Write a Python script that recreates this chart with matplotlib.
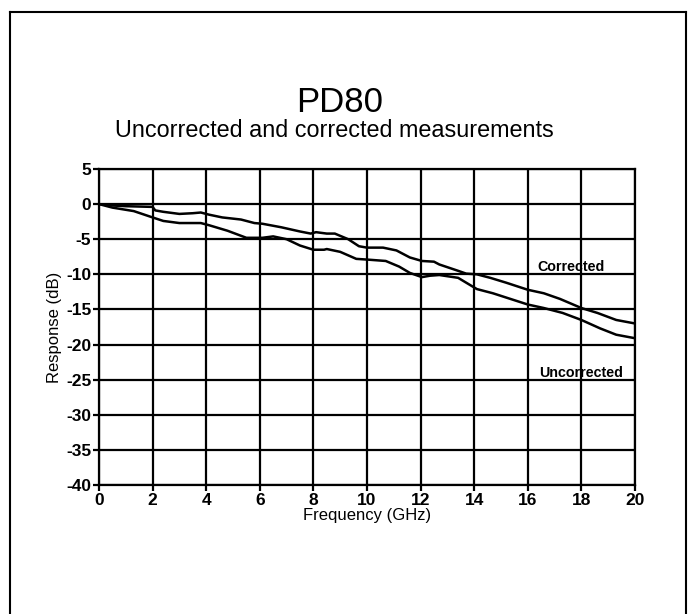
import matplotlib
matplotlib.use("Agg")
import matplotlib.pyplot as plt
from matplotlib.lines import Line2D

plt.rcParams['font.family'] = ['Liberation Sans', 'DejaVu Sans']

# corrected measurement (upper curve)
freq_corr = [0.0, 0.5, 1.0, 1.5, 2.0, 2.1, 2.4, 3.0, 3.5, 3.8, 4.1, 4.6, 5.3, 5.8,
             6.1, 6.8, 7.5, 7.9, 8.1, 8.5, 8.8, 9.3, 9.7, 10.0, 10.6, 11.1, 11.6,
             12.05, 12.5, 12.7, 13.4, 13.7, 14.1, 14.6, 15.2, 16.0, 16.6, 17.2,
             18.0, 18.6, 19.3, 20.0]
resp_corr = [0.0, -0.2, -0.3, -0.35, -0.4, -0.9, -1.1, -1.4, -1.3, -1.2, -1.5, -1.9,
             -2.2, -2.7, -2.8, -3.3, -3.9, -4.2, -4.0, -4.2, -4.2, -5.0, -6.0, -6.2,
             -6.2, -6.6, -7.6, -8.1, -8.2, -8.6, -9.5, -9.9, -10.0, -10.5, -11.2,
             -12.2, -12.7, -13.5, -14.8, -15.5, -16.5, -17.0]

# uncorrected measurement (lower curve)
freq_unc = [0.0, 0.5, 1.3, 2.0, 2.4, 3.0, 3.8, 4.1, 4.8, 5.5, 6.1, 6.5, 7.0, 7.5,
            8.0, 8.4, 8.5, 9.0, 9.6, 10.0, 10.7, 11.2, 11.6, 12.05, 12.35, 12.7,
            13.4, 14.1, 14.7, 16.0, 16.6, 17.3, 18.0, 18.7, 19.3, 20.0]
resp_unc = [0.0, -0.5, -1.0, -1.9, -2.4, -2.7, -2.7, -3.0, -3.8, -4.8, -4.8, -4.6,
            -5.0, -5.9, -6.5, -6.5, -6.4, -6.8, -7.8, -7.9, -8.1, -8.9, -9.8, -10.4,
            -10.2, -10.1, -10.5, -12.1, -12.7, -14.3, -14.8, -15.5, -16.5, -17.7,
            -18.6, -19.1]

x_ticks = list(range(0, 21, 2))
y_ticks = list(range(-40, 6, 5))

fig = plt.figure(figsize=(6.98, 6.14), dpi=100)
ax = fig.add_axes([0.1418, 0.2101, 0.7679, 0.5147])

ax.plot(freq_corr, resp_corr, color='black', lw=1.8)
ax.plot(freq_unc, resp_unc, color='black', lw=1.8)

ax.set_xlim(0, 20)
ax.set_ylim(-40, 5)
ax.set_xticks(x_ticks)
ax.set_yticks(y_ticks)
ax.set_xticklabels([str(v) for v in x_ticks], fontweight='bold', fontsize=12.5)
ax.set_yticklabels([str(v) for v in y_ticks], fontweight='bold', fontsize=12.5)
ax.tick_params(direction='out', length=4, width=1.6, pad=1.5)
ax.grid(True, color='black', lw=1.6)
for s in ax.spines.values():
    s.set_linewidth(1.6)

ax.set_xlabel('Frequency (GHz)', fontsize=12, labelpad=0)
ax.set_ylabel('Response (dB)', fontsize=12, labelpad=3)

ax.text(17.6, -9.9, 'Corrected', fontsize=10.3, fontweight='bold', ha='center', va='bottom')
ax.text(18.0, -24.0, 'Uncorrected', fontsize=10.3, fontweight='bold', ha='center', va='center')

fig.text(0.487, 0.818, 'PD80', fontsize=25, ha='center', va='baseline')
fig.text(0.479, 0.777, 'Uncorrected and corrected measurements', fontsize=16.8,
         ha='center', va='baseline')

# page frame (bottom edge is off the picture)
for xs, ys in [([0.0143, 0.0143], [0.0, 0.980]), ([0.0143, 0.983], [0.980, 0.980]),
               ([0.983, 0.983], [0.0, 0.980])]:
    fig.add_artist(Line2D(xs, ys, color='black', lw=1.5, transform=fig.transFigure))

fig.savefig('out.png', dpi=100)
